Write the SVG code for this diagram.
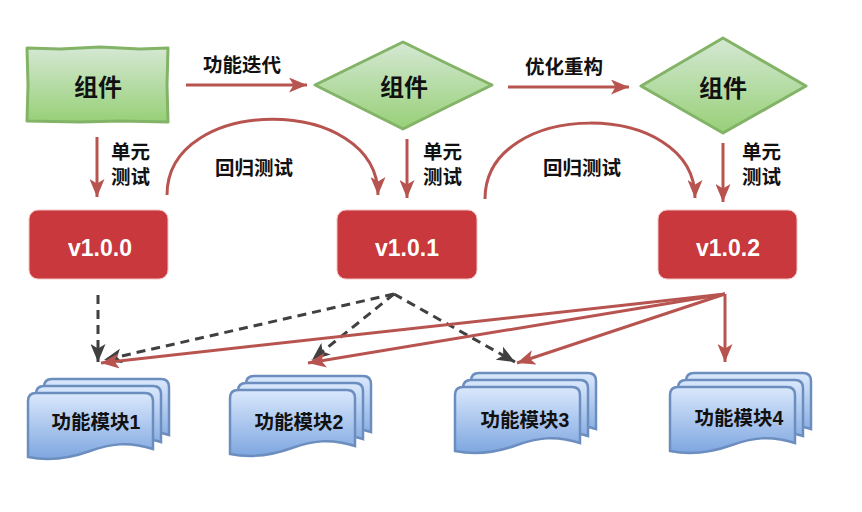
<svg xmlns="http://www.w3.org/2000/svg" width="862" height="512" viewBox="0 0 862 512">
<style>
.lbl{font-family:"Liberation Sans","Noto Sans CJK SC",sans-serif;font-size:19.5px;fill:#111;font-weight:bold}
.big{font-family:"Liberation Sans","Noto Sans CJK SC",sans-serif;font-size:24px;fill:#111;font-weight:bold}
.ver{font-family:"Liberation Sans","Noto Sans CJK SC",sans-serif;font-size:23px;fill:#fff;font-weight:bold}
.mod{font-family:"Liberation Sans","Noto Sans CJK SC",sans-serif;font-size:19.5px;fill:#111;font-weight:bold}
.red{fill:none;stroke:#b85450;stroke-width:3}
.dash{fill:none;stroke:#404040;stroke-width:3;stroke-dasharray:9 6}
.green{fill:url(#gg);stroke:#82b366;stroke-width:3;stroke-linejoin:round}
.vbox{fill:#c8383c;stroke:#f2c4c4;stroke-width:1}
.page{fill:url(#bg);stroke:#6c8ebf;stroke-width:2.5}
</style>
<defs>
<linearGradient id="gg" x1="0" y1="0" x2="0" y2="1"><stop offset="0" stop-color="#d5e8d4"/><stop offset="1" stop-color="#97d077"/></linearGradient>
<linearGradient id="bg" x1="0" y1="0" x2="0" y2="1"><stop offset="0" stop-color="#dae8fc"/><stop offset="1" stop-color="#7ea6e0"/></linearGradient>
<marker id="ar" viewBox="0 0 18 15" refX="18" refY="7.5" markerWidth="18" markerHeight="15" markerUnits="userSpaceOnUse" orient="auto"><path d="M0,0 L18,7.5 L0,15 L4.5,7.5 Z" fill="#b85450"/></marker>
<marker id="ad" viewBox="0 0 18 15" refX="18" refY="7.5" markerWidth="18" markerHeight="15" markerUnits="userSpaceOnUse" orient="auto"><path d="M0,0 L18,7.5 L0,15 L4.5,7.5 Z" fill="#404040"/></marker>
<path id="pg" d="M0,8 Q0,0 8,0 H117 Q125,0 125,8 V56 C100,48 82,51 62,58 C40,66 20,68 0,64 Z"/>
</defs>

<g id="connectors">
<path class="red" d="M186,85 H307" marker-end="url(#ar)"/>
<path class="red" d="M508,87 H629" marker-end="url(#ar)"/>
<path class="red" d="M97,137 V197" marker-end="url(#ar)"/>
<path class="red" d="M407,139 V198" marker-end="url(#ar)"/>
<path class="red" d="M723,143 V202" marker-end="url(#ar)"/>
<path class="red" d="M167,195 C167,94 378,94 378,195" marker-end="url(#ar)"/>
<path class="red" d="M485,199 C485,98 695,98 695,198" marker-end="url(#ar)"/>
<path class="dash" d="M98,295 V362" marker-end="url(#ad)"/>
<path class="dash" d="M394,294 L104,360" marker-end="url(#ad)"/>
<path class="dash" d="M394,294 L312,360" marker-end="url(#ad)"/>
<path class="dash" d="M394,294 L515,362" marker-end="url(#ad)"/>
<path class="red" d="M725,294 L101,363" marker-end="url(#ar)"/>
<path class="red" d="M725,294 L308,363" marker-end="url(#ar)"/>
<path class="red" d="M725,294 L517,363" marker-end="url(#ar)"/>
<path class="red" d="M725,294 V362" marker-end="url(#ar)"/>
<text class="lbl" x="242" y="72" text-anchor="middle">功能迭代</text>
<text class="lbl" x="564" y="74" text-anchor="middle">优化重构</text>
<text class="lbl" x="111" y="159">单元</text>
<text class="lbl" x="111" y="184">测试</text>
<text class="lbl" x="423" y="159">单元</text>
<text class="lbl" x="423" y="184">测试</text>
<text class="lbl" x="742" y="159">单元</text>
<text class="lbl" x="742" y="184">测试</text>
<text class="lbl" x="254" y="175" text-anchor="middle">回归测试</text>
<text class="lbl" x="582" y="175" text-anchor="middle">回归测试</text>
</g>

<g id="comp1">
<path class="green" d="M27,48 L60,49 L100,47 L140,49 L168,48 L167,85 L168,122 L120,121 L80,122 L27,121 L28,85 Z"/>
<text class="big" x="98" y="96" text-anchor="middle">组件</text>
</g>
<g id="comp2">
<path class="green" d="M315,85 L360,63 L403,42 L448,64 L492,85 L447,107 L403,129 L359,107 Z"/>
<text class="big" x="404" y="96" text-anchor="middle">组件</text>
</g>
<g id="comp3">
<path class="green" d="M641,86 L723,38 L806,86 L723,133 Z"/>
<text class="big" x="723" y="97" text-anchor="middle">组件</text>
</g>

<g id="v100"><rect class="vbox" x="29" y="210" width="139" height="69" rx="9"/><text class="ver" x="100" y="256" text-anchor="middle">v1.0.0</text></g>
<g id="v101"><rect class="vbox" x="337" y="210" width="140" height="69" rx="9"/><text class="ver" x="407" y="256" text-anchor="middle">v1.0.1</text></g>
<g id="v102"><rect class="vbox" x="658" y="210" width="139" height="69" rx="9"/><text class="ver" x="728" y="256" text-anchor="middle">v1.0.2</text></g>

<g id="mod1">
<use href="#pg" class="page" transform="translate(44,379)"/>
<use href="#pg" class="page" transform="translate(36,386)"/>
<use href="#pg" class="page" transform="translate(28,393)"/>
<text class="mod" x="96" y="429" text-anchor="middle">功能模块1</text>
</g>
<g id="mod2">
<use href="#pg" class="page" transform="translate(246,376)"/>
<use href="#pg" class="page" transform="translate(238,383)"/>
<use href="#pg" class="page" transform="translate(230,390)"/>
<text class="mod" x="299" y="429" text-anchor="middle">功能模块2</text>
</g>
<g id="mod3">
<use href="#pg" class="page" transform="translate(471,373)"/>
<use href="#pg" class="page" transform="translate(463,380)"/>
<use href="#pg" class="page" transform="translate(455,387)"/>
<text class="mod" x="525" y="427" text-anchor="middle">功能模块3</text>
</g>
<g id="mod4">
<use href="#pg" class="page" transform="translate(686,373)"/>
<use href="#pg" class="page" transform="translate(678,380)"/>
<use href="#pg" class="page" transform="translate(670,387)"/>
<text class="mod" x="739" y="425" text-anchor="middle">功能模块4</text>
</g>
</svg>
